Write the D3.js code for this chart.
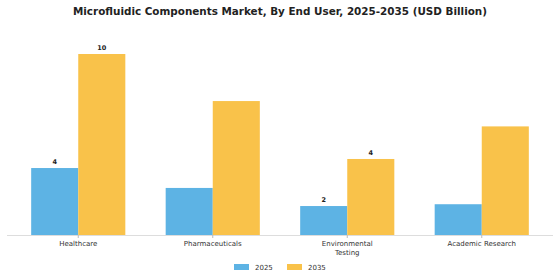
<!DOCTYPE html>
<html>
<head>
<meta charset="utf-8">
<script src="https://cdn.jsdelivr.net/npm/d3@7"></script>
<style>
  body { margin: 0; background: #fff; }
  text { font-family: "DejaVu Sans", sans-serif; }
</style>
</head>
<body>
<svg id="chart"></svg>
<script>
const width = 560;
const height = 280;

const categories = ["Healthcare", "Pharmaceuticals", "Environmental Testing", "Academic Research"];
const seriesNames = ["2025", "2035"];
const values2025 = [3.7, 2.6, 1.6, 1.7];
const values2035 = [10, 7.4, 4.2, 6.0];
// only some bars carry a value label in the original
const labels2025 = ["4", null, "2", null];
const labels2035 = ["10", null, "4", null];
const colors = ["#5DB3E4", "#F9C24A"];

const svg = d3.select("#chart")
  .attr("width", width)
  .attr("height", height);

const margin = { top: 54, bottom: 45 };
const baseline = height - margin.bottom;

const x = d3.scaleBand()
  .domain(categories)
  .range([11, 549])
  .paddingInner(0.3)
  .paddingOuter(0.15);

const xSub = d3.scaleBand()
  .domain(seriesNames)
  .range([0, x.bandwidth()]);

const y = d3.scaleLinear()
  .domain([0, 10])
  .range([baseline, margin.top]);

const color = d3.scaleOrdinal(seriesNames, colors);

// title
svg.append("text")
  .attr("x", width / 2)
  .attr("y", 15)
  .attr("text-anchor", "middle")
  .attr("font-size", "10.4px")
  .attr("font-weight", "bold")
  .attr("fill", "#222")
  .text("Microfluidic Components Market, By End User, 2025-2035 (USD Billion)");

const rows = categories.map((c, i) => ({
  category: c,
  bars: [
    { key: "2025", value: values2025[i], label: labels2025[i] },
    { key: "2035", value: values2035[i], label: labels2035[i] }
  ]
}));

const groups = svg.selectAll(".group")
  .data(rows)
  .enter()
  .append("g")
  .attr("class", "group")
  .attr("transform", (d) => `translate(${x(d.category)},0)`);

groups.selectAll("rect")
  .data((d) => d.bars)
  .enter()
  .append("rect")
  .attr("x", (d) => xSub(d.key))
  .attr("y", (d) => y(d.value))
  .attr("width", xSub.bandwidth())
  .attr("height", (d) => baseline - y(d.value))
  .attr("fill", (d) => color(d.key));

groups.selectAll(".val")
  .data((d) => d.bars.filter((b) => b.label))
  .enter()
  .append("text")
  .attr("class", "val")
  .attr("x", (d) => xSub(d.key) + xSub.bandwidth() / 2)
  .attr("y", (d) => y(d.value) - 4)
  .attr("text-anchor", "middle")
  .attr("font-size", "6.5px")
  .attr("font-weight", "bold")
  .attr("fill", "#222")
  .text((d) => d.label);

// x axis
const axis = svg.append("g")
  .attr("transform", `translate(0,${baseline})`)
  .call(d3.axisBottom(x).tickSize(3).tickSizeOuter(0));

axis.select(".domain")
  .attr("stroke", "#ddd")
  .attr("d", `M7,0.5H553`);
axis.selectAll(".tick line").attr("stroke", "#bbb");
axis.selectAll(".tick text").remove();

axis.selectAll(".tick")
  .append("text")
  .attr("fill", "#333")
  .attr("font-size", "7px")
  .attr("text-anchor", "middle")
  .selectAll("tspan")
  .data((d) => d === "Environmental Testing" ? ["Environmental", "Testing"] : [d])
  .enter()
  .append("tspan")
  .attr("x", 0)
  .attr("y", (_, i) => 11 + i * 8.5)
  .text((d) => d);

// legend
const legend = svg.append("g")
  .attr("transform", `translate(234,${height - 13})`);

const item = legend.selectAll("g")
  .data(seriesNames)
  .enter()
  .append("g")
  .attr("transform", (d, i) => `translate(${i * 53},0)`);

item.append("rect")
  .attr("y", -3)
  .attr("width", 15)
  .attr("height", 6)
  .attr("fill", (d) => color(d));

item.append("text")
  .attr("x", 21)
  .attr("y", 3)
  .attr("font-size", "7px")
  .attr("fill", "#333")
  .text((d) => d);
</script>
</body>
</html>
